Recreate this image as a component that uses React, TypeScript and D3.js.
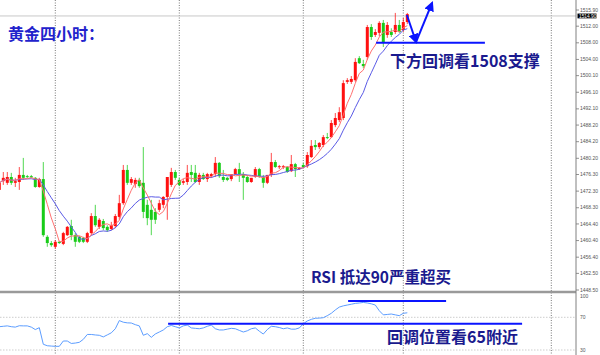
import React from 'react';
import * as d3 from 'd3';

const W = 600;
const H = 355;

// 黄金 4 小时 K 线 (bar 0 is half cut off at the left edge)
const opens = [
  1472.6, 1474.7, 1474.3, 1475.7, 1474.3, 1474.5, 1476.2, 1475.9, 1475.9, 1475.5,
  1473.3, 1475.2, 1461.3, 1459.8, 1458.9, 1460.1, 1459.6, 1461.7, 1463.9, 1461.7,
  1461.3, 1461.0, 1460.1, 1462.2, 1466.3, 1463.7, 1465.1, 1463.7, 1463.2, 1463.9,
  1466.1, 1469.4, 1477.4, 1474.3, 1474.0, 1475.0, 1474.3, 1469.0, 1467.8, 1467.3,
  1467.8, 1469.0, 1470.9, 1473.8, 1476.9, 1475.0, 1474.3, 1474.5, 1476.9, 1476.7,
  1474.5, 1476.2, 1475.2, 1475.9, 1476.4, 1479.1, 1475.7, 1475.5, 1475.2, 1476.4,
  1477.6, 1476.4, 1475.7, 1474.5, 1475.7, 1477.6, 1475.7, 1474.3, 1476.2, 1479.3,
  1478.1, 1478.1, 1478.1, 1477.1, 1478.8, 1477.6, 1478.6, 1478.3, 1480.5, 1483.4,
  1482.9, 1483.4, 1485.3, 1485.3, 1488.2, 1489.4, 1489.9, 1498.6, 1498.6, 1499.0,
  1504.3, 1502.9, 1504.6, 1511.8, 1509.9, 1510.4, 1512.8, 1509.9, 1510.6, 1510.6,
  1512.3, 1511.1, 1513.0,
];
const highs = [
  1474.7, 1476.9, 1476.9, 1476.7, 1475.5, 1478.1, 1480.3, 1476.2, 1476.2, 1475.7,
  1475.5, 1479.3, 1461.7, 1460.3, 1460.5, 1460.3, 1462.5, 1463.9, 1465.4, 1462.2,
  1461.5, 1461.3, 1462.5, 1467.0, 1469.0, 1465.8, 1465.6, 1464.1, 1464.9, 1466.8,
  1471.4, 1478.6, 1478.6, 1475.7, 1475.5, 1475.5, 1482.9, 1470.2, 1470.2, 1468.2,
  1470.2, 1471.1, 1475.7, 1477.9, 1477.4, 1475.5, 1475.2, 1478.6, 1478.6, 1478.6,
  1476.7, 1476.7, 1476.7, 1476.7, 1480.5, 1479.3, 1477.4, 1475.7, 1475.7, 1477.9,
  1479.1, 1476.9, 1476.2, 1475.5, 1478.1, 1477.9, 1476.2, 1476.2, 1481.5, 1479.8,
  1478.6, 1478.6, 1478.3, 1481.0, 1479.1, 1478.1, 1479.1, 1481.7, 1484.6, 1484.6,
  1484.1, 1485.8, 1486.3, 1489.4, 1491.1, 1492.5, 1499.0, 1499.5, 1500.0, 1504.3,
  1504.8, 1503.9, 1512.3, 1512.5, 1511.3, 1513.2, 1513.5, 1513.0, 1511.5, 1515.2,
  1513.5, 1514.0, 1515.2,
];
const lows = [
  1472.1, 1473.8, 1473.8, 1473.8, 1473.3, 1472.6, 1475.0, 1475.5, 1475.5, 1473.1,
  1473.1, 1461.3, 1458.9, 1458.9, 1458.4, 1459.6, 1459.3, 1461.5, 1460.5, 1458.9,
  1459.8, 1459.8, 1459.8, 1461.7, 1463.7, 1463.2, 1462.9, 1462.5, 1462.9, 1463.4,
  1465.4, 1469.0, 1473.8, 1473.8, 1473.1, 1473.1, 1465.8, 1464.1, 1461.7, 1464.4,
  1467.3, 1468.2, 1465.4, 1473.3, 1475.0, 1473.5, 1473.8, 1473.8, 1474.5, 1474.3,
  1473.8, 1475.0, 1474.5, 1475.5, 1475.7, 1475.5, 1474.5, 1474.7, 1474.7, 1476.2,
  1474.5, 1470.2, 1474.3, 1474.3, 1475.5, 1475.5, 1473.1, 1474.0, 1475.7, 1477.9,
  1477.6, 1477.6, 1476.7, 1476.9, 1475.7, 1477.4, 1477.9, 1477.9, 1480.3, 1482.2,
  1482.4, 1482.9, 1484.8, 1485.1, 1487.7, 1488.9, 1489.4, 1498.1, 1498.1, 1498.6,
  1502.9, 1501.9, 1503.9, 1508.7, 1509.4, 1509.6, 1507.0, 1509.2, 1509.4, 1510.1,
  1510.4, 1510.6, 1512.5,
];
const closes = [
  1474.3, 1475.5, 1475.7, 1474.3, 1474.7, 1476.2, 1475.5, 1475.7, 1475.6, 1473.3,
  1475.2, 1461.7, 1459.8, 1459.3, 1460.1, 1459.8, 1462.2, 1463.7, 1461.7, 1460.1,
  1460.1, 1460.1, 1462.2, 1466.3, 1464.1, 1465.4, 1463.4, 1462.9, 1464.1, 1466.3,
  1469.4, 1477.4, 1474.3, 1475.2, 1475.0, 1473.5, 1467.3, 1465.8, 1465.4, 1465.4,
  1469.4, 1470.9, 1475.7, 1476.9, 1475.5, 1473.8, 1474.7, 1476.7, 1476.2, 1474.5,
  1476.2, 1475.2, 1476.4, 1476.4, 1479.1, 1475.9, 1475.0, 1475.0, 1476.4, 1477.6,
  1476.4, 1475.5, 1474.5, 1475.5, 1477.6, 1475.7, 1474.3, 1476.2, 1479.3, 1478.1,
  1478.3, 1478.3, 1476.9, 1478.8, 1477.6, 1477.9, 1478.1, 1481.0, 1483.2, 1482.9,
  1483.9, 1485.3, 1485.1, 1488.7, 1489.9, 1491.3, 1498.3, 1499.0, 1499.3, 1503.4,
  1503.1, 1502.4, 1511.8, 1509.4, 1510.6, 1512.8, 1508.2, 1512.3, 1509.9, 1512.3,
  1510.6, 1513.0, 1514.9,
];

// RSI 副图
const rsi = [
  58.5, 59, 59.5, 58.5, 58, 59.7, 59.5, 59.5, 58, 55,
  57.3, 37, 35.2, 34.8, 34.5, 34.5, 41, 41, 38, 38.5,
  39.4, 43, 49, 49, 48.4, 48, 46, 48.5, 51, 56,
  66, 64, 63.2, 63, 61, 59.5, 48, 50, 45.5, 49.6,
  52, 54.5, 58.5, 60, 58.5, 57, 59.5, 60.5, 57, 56.5,
  56, 57, 59, 60.5, 56, 54.5, 54.5, 55.5, 56.5, 56,
  54, 52, 53.5, 56, 57, 53, 49.5, 55, 59, 58.5,
  57.5, 56, 57, 55.5, 55.5, 57, 62, 65.5, 67.5, 68.8,
  69, 69.5, 72, 74.9, 79, 82.5, 84, 85, 86, 87,
  87.5, 88.2, 87.5, 86.5, 85, 78, 73, 73.5, 74, 73,
  72, 74.9, 75.5,
];

const priceTicks = [1515.9, 1512.0, 1508.0, 1504.0, 1500.1, 1496.1, 1492.1, 1488.2, 1484.2,
  1480.2, 1476.3, 1472.3, 1468.3, 1464.4, 1460.4, 1456.4, 1452.5, 1448.5];
const rsiTicks = [100, 70, 30];
const rsiLevels = [70, 30];
const separatorBars = [14, 45, 76, 101, 138];

// 手画的标注 (bar index, value)
const supportLevel = { price: 1508.0, from: 94.2, to: 121.4 };
const arrowPath = [[101.9, 1514.7], [104.2, 1508.2], [108.2, 1517.6]];
const rsiHigh = { value: 90, from: 87.2, to: 111.7 };
const rsiLow = { value: 62, from: 42.2, to: 130.7 };

const sma = (n: number) =>
  closes.map((_, i) => d3.mean(closes.slice(Math.max(0, i - n + 1), i + 1)) as number);

export default function App() {
  const axisX = 576;
  const x = d3.scaleLinear().domain([0, 102]).range([-0.7, 407.3]);
  const y = d3.scaleLinear().domain([1448.5, 1515.9]).range([290, 10]);
  const yr = d3.scaleLinear().domain([30, 70]).range([350, 317.3]);

  const maLine = d3.line<number>().x((_, i) => x(i)).y(d => y(d));
  const rsiLine = d3.line<number>().x((_, i) => x(i)).y(d => yr(d));
  const arrowLine = d3.line<number[]>().x(d => x(d[0])).y(d => y(d[1]));

  const fmt = d3.format('.2f');
  const blue = '#0a14ff';
  const navy = '#1a1a8e';
  const cjk = '"Noto Sans CJK SC", "Noto Sans", sans-serif';
  const last = closes[closes.length - 1];
  // bid marker sits a touch under the last close, like MT4 draws it
  const bidY = y(last) + 1.8;

  return (
    <svg width={W} height={H} style={{ position: 'fixed', left: 0, top: 0, background: '#fff' }}>
      <defs>
        <marker id="ah" viewBox="0 0 10 10" refX="8" refY="5" markerWidth="5" markerHeight="5" orient="auto">
          <path d="M0,0 L10,5 L0,10 z" fill={blue} />
        </marker>
      </defs>
      <rect width={W} height={H} fill="#fff" />

      {/* day separators */}
      {separatorBars.map(b => (
        <line key={b} x1={x(b)} x2={x(b)} y1={0} y2={H} stroke="#555" strokeWidth={0.8} strokeDasharray="1,1.5" />
      ))}

      {/* bid line */}
      <line x1={0} x2={axisX} y1={bidY} y2={bidY} stroke="#c8c8c8" strokeWidth={1} />

      {/* candles */}
      {closes.map((c, i) => {
        const o = opens[i];
        const up = c >= o;
        const col = up ? '#ff1010' : '#18cc18';
        const top = y(Math.max(o, c));
        const h = Math.max(1, Math.abs(y(o) - y(c)));
        return (
          <g key={i}>
            <line x1={x(i)} x2={x(i)} y1={y(highs[i])} y2={y(lows[i])} stroke={col} strokeWidth={1} opacity={0.75} />
            <rect x={x(i) - 1.5} y={top} width={3} height={h} fill={col} />
          </g>
        );
      })}

      {/* moving averages */}
      <path d={maLine(sma(10)) as string} fill="none" stroke="#5a5ae6" strokeWidth={1} />
      <path d={maLine(sma(5)) as string} fill="none" stroke="#ff7070" strokeWidth={1} />

      {/* panel separator */}
      <line x1={0} x2={axisX} y1={292} y2={292} stroke="#9a9a9a" strokeWidth={2.5} />

      {/* RSI levels */}
      {rsiLevels.map(v => (
        <line key={v} x1={0} x2={axisX} y1={yr(v)} y2={yr(v)} stroke="#c0c0c0" strokeWidth={0.8} strokeDasharray="1.5,1.5" />
      ))}
      <path d={rsiLine(rsi) as string} fill="none" stroke="#5c9dff" strokeWidth={1} />

      {/* annotations */}
      <line x1={x(supportLevel.from)} x2={x(supportLevel.to)} y1={y(supportLevel.price)} y2={y(supportLevel.price)} stroke={blue} strokeWidth={2} />
      <path d={arrowLine(arrowPath.slice(0, 2)) as string} fill="none" stroke={blue} strokeWidth={2} markerEnd="url(#ah)" />
      <path d={arrowLine(arrowPath.slice(1)) as string} fill="none" stroke={blue} strokeWidth={2} markerEnd="url(#ah)" />
      <line x1={x(rsiHigh.from)} x2={x(rsiHigh.to)} y1={yr(rsiHigh.value)} y2={yr(rsiHigh.value)} stroke={blue} strokeWidth={2} />
      <line x1={x(rsiLow.from)} x2={x(rsiLow.to)} y1={yr(rsiLow.value)} y2={yr(rsiLow.value)} stroke={blue} strokeWidth={2} />

      <text x={8} y={40} fontFamily={cjk} fontWeight="bold" fontSize={16} fill="#2222cc">黄金四小时：</text>
      <text x={390} y={67} fontFamily={cjk} fontWeight="bold" fontSize={16} fill={navy}>下方回调看1508支撑</text>
      <text x={311} y={283} fontFamily={cjk} fontWeight="bold" fontSize={15.5} fill={navy}>RSI 抵达90严重超买</text>
      <text x={387} y={343} fontFamily={cjk} fontWeight="bold" fontSize={16} fill={navy}>回调位置看65附近</text>

      {/* right axis */}
      <line x1={axisX} x2={axisX} y1={0} y2={H} stroke="#808080" strokeWidth={1} />
      <g fontFamily="Liberation Sans, Arial, sans-serif" fontSize={5} fill="#555">
        {priceTicks.map(p => (
          <g key={p}>
            <line x1={axisX} x2={axisX + 3} y1={y(p)} y2={y(p)} stroke="#777" strokeWidth={0.8} />
            <text x={axisX + 4} y={y(p) + 1.6}>{fmt(p)}</text>
          </g>
        ))}
        {rsiTicks.map(v => (
          <text key={v} x={axisX + 4} y={v === 100 ? 298 : yr(v) + 1.8}>{v}</text>
        ))}
      </g>
      <rect x={axisX + 1.5} y={bidY - 2.4} width={19} height={4.8} fill="#000" />
      <text x={axisX + 3} y={bidY + 1.7} fontFamily="Liberation Sans, Arial, sans-serif" fontSize={4.8} fill="#fff">
        {fmt(last)}
      </text>
    </svg>
  );
}
